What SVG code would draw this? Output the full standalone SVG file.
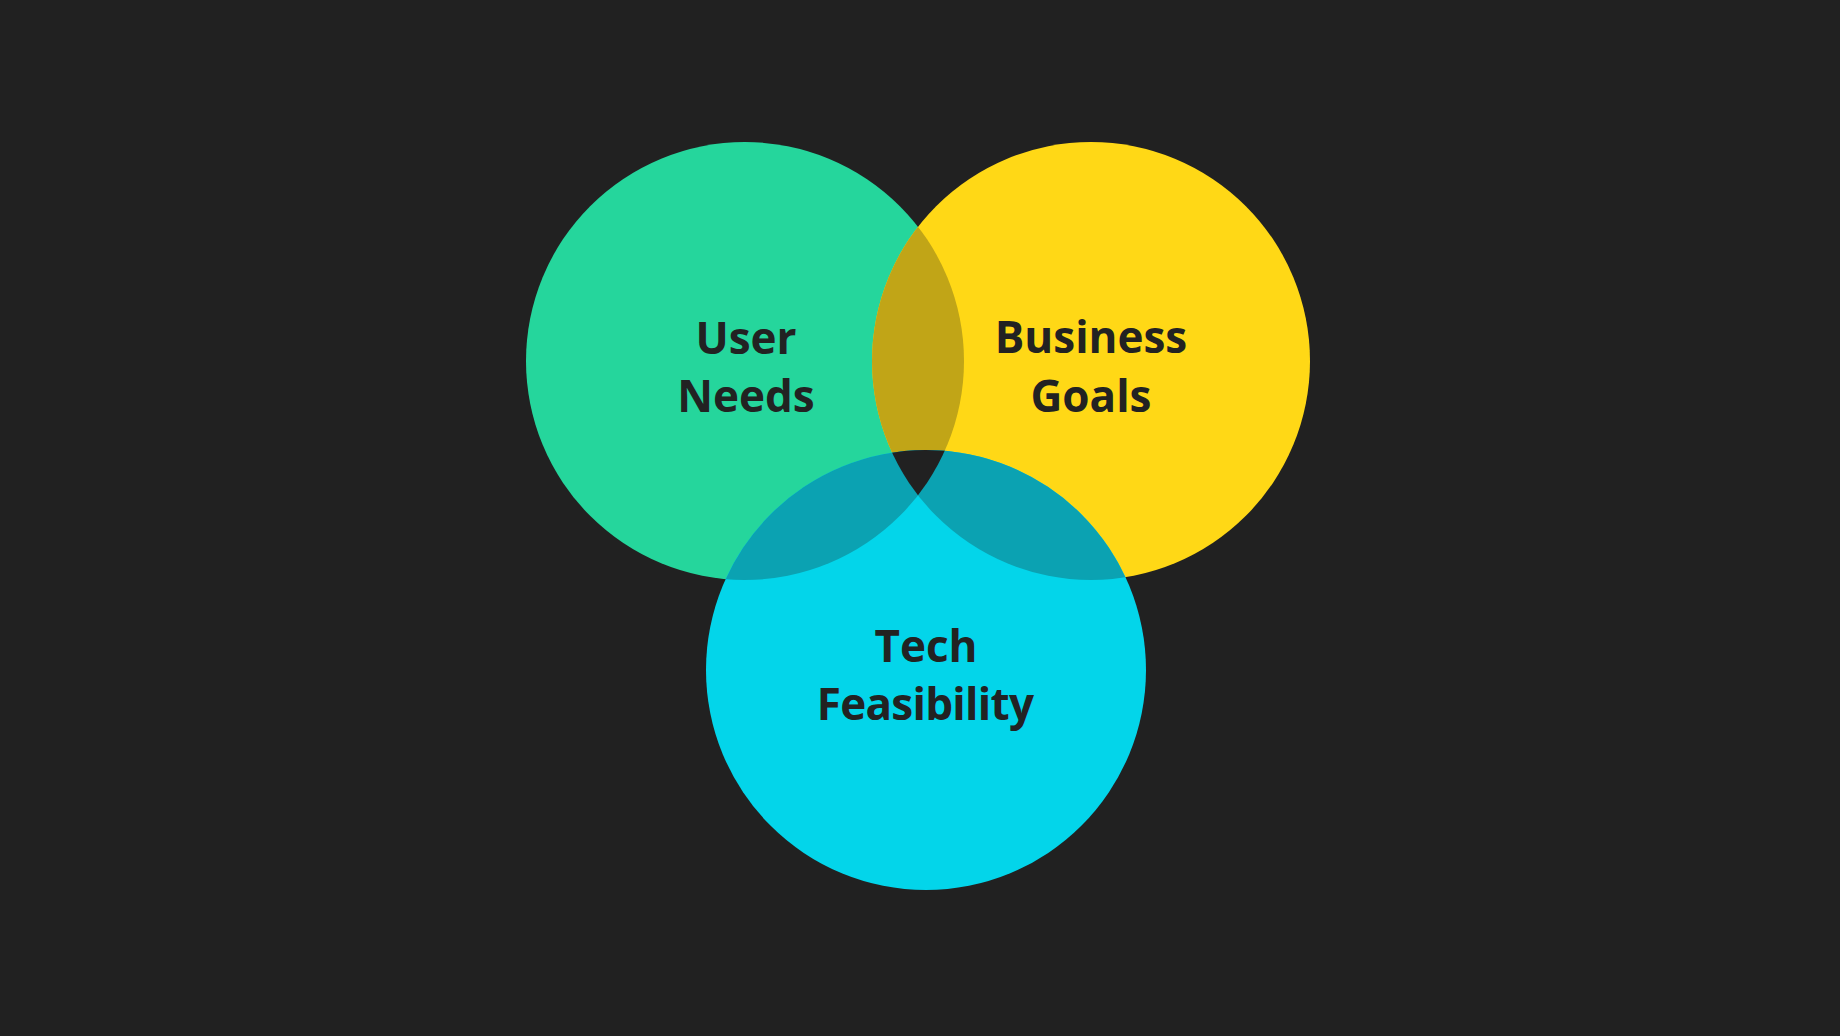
<svg xmlns="http://www.w3.org/2000/svg" width="1840" height="1036" viewBox="0 0 1840 1036">
  <style>
    .lbl { font-family: "Open Sans", "Liberation Sans", sans-serif; font-weight: 700; font-size: 44px; fill: #222222; text-anchor: middle; }
  </style>
  <defs>
    <clipPath id="clipG"><circle cx="745" cy="361" r="219"/></clipPath>
    <clipPath id="clipY"><circle cx="1091" cy="361" r="219"/></clipPath>
  </defs>
  <rect x="0" y="0" width="1840" height="1036" fill="#212121"/>
  <g id="user-needs">
    <circle cx="745" cy="361" r="219" fill="#25D69C"/>
  </g>
  <g id="business-goals">
    <circle cx="1091" cy="361" r="219" fill="#FFD816"/>
  </g>
  <g id="tech-feasibility">
    <circle cx="926" cy="670" r="220" fill="#03D5EA"/>
  </g>
  <g id="overlaps">
    <circle cx="1091" cy="361" r="219" fill="#C1A517" clip-path="url(#clipG)"/>
    <circle cx="926" cy="670" r="220" fill="#0BA2B2" clip-path="url(#clipG)"/>
    <circle cx="926" cy="670" r="220" fill="#0BA2B2" clip-path="url(#clipY)"/>
    <g clip-path="url(#clipG)">
      <circle cx="926" cy="670" r="220" fill="#212121" clip-path="url(#clipY)"/>
    </g>
  </g>
  <g id="labels">
    <text class="lbl" x="746" y="354">User</text>
    <text class="lbl" x="746" y="412">Needs</text>
    <text class="lbl" x="1091" y="353">Business</text>
    <text class="lbl" x="1091" y="412">Goals</text>
    <text class="lbl" x="926" y="662">Tech</text>
    <text class="lbl" x="925" y="720" letter-spacing="-0.7">Feasibility</text>
  </g>
</svg>
